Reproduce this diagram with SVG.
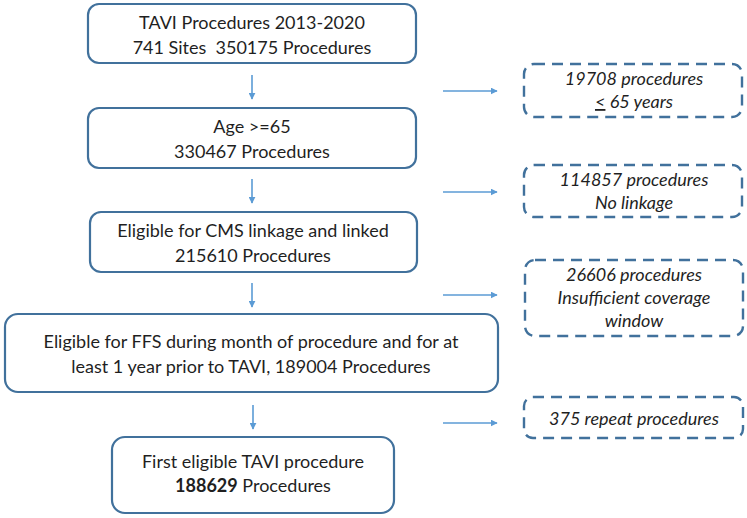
<svg xmlns="http://www.w3.org/2000/svg" width="747" height="518" viewBox="0 0 747 518">
  <style>
    .box { fill: #ffffff; stroke: #41719C; stroke-width: 2.2; }
    .excl { fill: #ffffff; stroke: #41719C; stroke-width: 2.4; stroke-dasharray: 11 7; }
    .lbl { font-family: Lato, "Open Sans", "Liberation Sans", sans-serif; font-size: 18px; fill: #1f1f1f; text-anchor: middle; }
    .it { font-style: italic; }
    .conn { stroke: #5B9BD5; stroke-width: 1.6; fill: none; marker-end: url(#head); }
  </style>
  <defs>
    <marker id="head" viewBox="0 0 10 10" refX="9" refY="5" markerWidth="7" markerHeight="7" markerUnits="userSpaceOnUse" orient="auto">
      <path d="M0,0 L10,5 L0,10 z" fill="#5B9BD5"/>
    </marker>
  </defs>

  <!-- connectors -->
  <g id="connectors">
    <line class="conn" x1="252" y1="75" x2="252" y2="99"/>
    <line class="conn" x1="252" y1="179" x2="252" y2="203"/>
    <line class="conn" x1="252" y1="283" x2="252" y2="307"/>
    <line class="conn" x1="253" y1="405" x2="253" y2="429"/>
    <line class="conn" x1="443" y1="91" x2="497" y2="91"/>
    <line class="conn" x1="443" y1="192" x2="497" y2="192"/>
    <line class="conn" x1="443" y1="295" x2="497" y2="295"/>
    <line class="conn" x1="443" y1="423" x2="497" y2="423"/>
  </g>

  <!-- main flow -->
  <g id="n-all">
    <rect class="box" x="88" y="4" width="328" height="59" rx="11"/>
    <text class="lbl" x="252" y="29">TAVI Procedures 2013-2020</text>
    <text class="lbl" x="252" y="54">741 Sites&#160; 350175 Procedures</text>
  </g>
  <g id="n-age">
    <rect class="box" x="88" y="108" width="328" height="60" rx="11"/>
    <text class="lbl" x="252" y="133">Age &gt;=65</text>
    <text class="lbl" x="252" y="158">330467 Procedures</text>
  </g>
  <g id="n-cms">
    <rect class="box" x="90" y="212" width="327" height="60" rx="11"/>
    <text class="lbl" x="253" y="237">Eligible for CMS linkage and linked</text>
    <text class="lbl" x="253" y="262">215610 Procedures</text>
  </g>
  <g id="n-ffs">
    <rect class="box" x="5" y="314" width="493" height="78" rx="13"/>
    <text class="lbl" x="251" y="348">Eligible for FFS during month of procedure and for at</text>
    <text class="lbl" x="251" y="373">least 1 year prior to TAVI, 189004 Procedures</text>
  </g>
  <g id="n-first">
    <rect class="box" x="112" y="437" width="282" height="76" rx="13"/>
    <text class="lbl" x="253" y="468">First eligible TAVI procedure</text>
    <text class="lbl" x="253" y="492"><tspan font-weight="bold">188629</tspan> Procedures</text>
  </g>

  <!-- exclusions -->
  <g id="x-age">
    <rect class="excl" x="524" y="64" width="218" height="53" rx="10"/>
    <text class="lbl it" x="634" y="85">19708 procedures</text>
    <text class="lbl it" x="634" y="108"><tspan text-decoration="underline">&lt;</tspan> 65 years</text>
  </g>
  <g id="x-link">
    <rect class="excl" x="524" y="165" width="218" height="52" rx="10"/>
    <text class="lbl it" x="634" y="186">114857 procedures</text>
    <text class="lbl it" x="634" y="209">No linkage</text>
  </g>
  <g id="x-cover">
    <rect class="excl" x="525" y="260" width="218" height="76" rx="10"/>
    <text class="lbl it" x="634" y="281">26606 procedures</text>
    <text class="lbl it" x="634" y="304">Insufficient coverage</text>
    <text class="lbl it" x="634" y="327">window</text>
  </g>
  <g id="x-repeat">
    <rect class="excl" x="524" y="397" width="219" height="41" rx="9"/>
    <text class="lbl it" x="634" y="425">375 repeat procedures</text>
  </g>
</svg>
